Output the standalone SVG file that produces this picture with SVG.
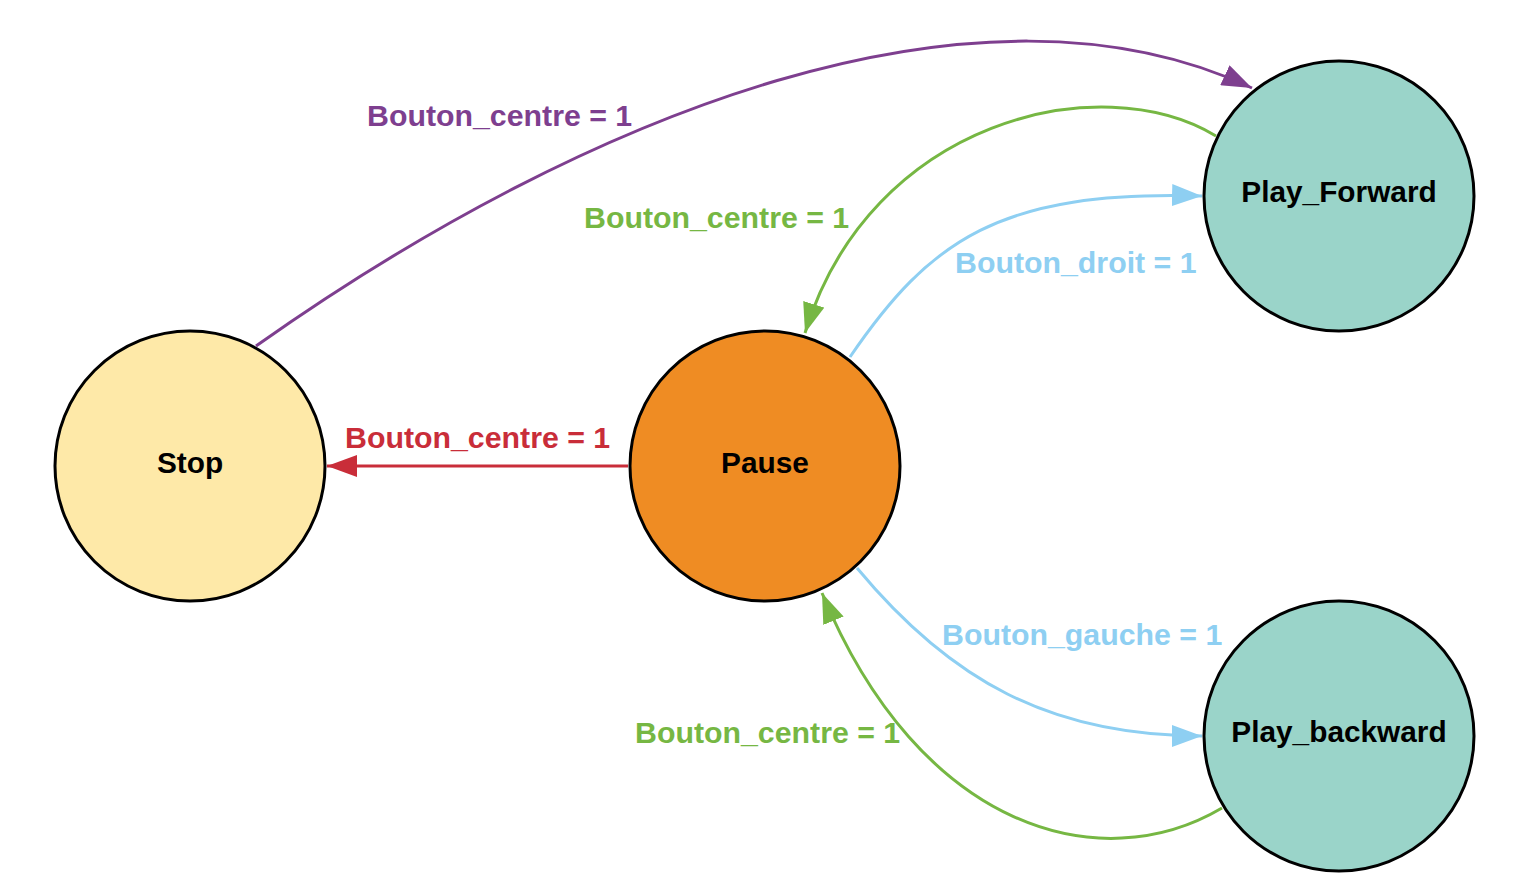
<svg xmlns="http://www.w3.org/2000/svg" width="1539" height="887" viewBox="0 0 1539 887">
<style>
.node{stroke:#000;stroke-width:3}
.nl{font-family:"Liberation Sans",Arial,sans-serif;font-weight:bold;font-size:29.8px;fill:#000;text-anchor:middle}
.el{font-family:"Liberation Sans",Arial,sans-serif;font-weight:bold;font-size:30.3px}
.e{fill:none;stroke-width:3}
</style>
<defs>
<marker id="aP" viewBox="0 0 30 22" refX="30" refY="11" markerWidth="30" markerHeight="22" markerUnits="userSpaceOnUse" orient="auto"><path d="M0,0L30,11L0,22Z" fill="#7e3f8f"/></marker>
<marker id="aG" viewBox="0 0 30 22" refX="30" refY="11" markerWidth="30" markerHeight="22" markerUnits="userSpaceOnUse" orient="auto"><path d="M0,0L30,11L0,22Z" fill="#76b743"/></marker>
<marker id="aB" viewBox="0 0 30 22" refX="30" refY="11" markerWidth="30" markerHeight="22" markerUnits="userSpaceOnUse" orient="auto"><path d="M0,0L30,11L0,22Z" fill="#8ecff2"/></marker>
<marker id="aR" viewBox="0 0 30 22" refX="30" refY="11" markerWidth="30" markerHeight="22" markerUnits="userSpaceOnUse" orient="auto"><path d="M0,0L30,11L0,22Z" fill="#c92d39"/></marker>
</defs>
<rect width="1539" height="887" fill="#fff"/>
<g id="connectors">
<path class="e" stroke="#7e3f8f" d="M256,346 C590,110 980,-40 1252,88" marker-end="url(#aP)"/>
<path class="e" stroke="#76b743" d="M1216,136 C1100,66 870,120 805,333" marker-end="url(#aG)"/>
<path class="e" stroke="#8ecff2" d="M850,357 C930,240 1000,190 1202,196" marker-end="url(#aB)"/>
<path class="e" stroke="#c92d39" d="M628,466 L327,466" marker-end="url(#aR)"/>
<path class="e" stroke="#8ecff2" d="M857,568 C950,680 1050,736 1202,736" marker-end="url(#aB)"/>
<path class="e" stroke="#76b743" d="M1222,808 C1100,880 920,830 822,593" marker-end="url(#aG)"/>
<text class="el" x="367" y="126" fill="#7e3f8f">Bouton_centre = 1</text>
<text class="el" x="584" y="228" fill="#76b743">Bouton_centre = 1</text>
<text class="el" x="955" y="273" fill="#8ecff2">Bouton_droit = 1</text>
<text class="el" x="345" y="448" fill="#c92d39">Bouton_centre = 1</text>
<text class="el" x="942" y="645" fill="#8ecff2">Bouton_gauche = 1</text>
<text class="el" x="635" y="743" fill="#76b743">Bouton_centre = 1</text>
</g>
<g id="stop"><circle class="node" cx="190" cy="466" r="135" fill="#fee9a8"/><text class="nl" x="190" y="473">Stop</text></g>
<g id="pause"><circle class="node" cx="765" cy="466" r="135" fill="#ef8c23"/><text class="nl" x="765" y="473">Pause</text></g>
<g id="play_forward"><circle class="node" cx="1339" cy="196" r="135" fill="#9ad4c9"/><text class="nl" x="1339" y="202">Play_Forward</text></g>
<g id="play_backward"><circle class="node" cx="1339" cy="736" r="135" fill="#9ad4c9"/><text class="nl" x="1339" y="742">Play_backward</text></g>
</svg>
